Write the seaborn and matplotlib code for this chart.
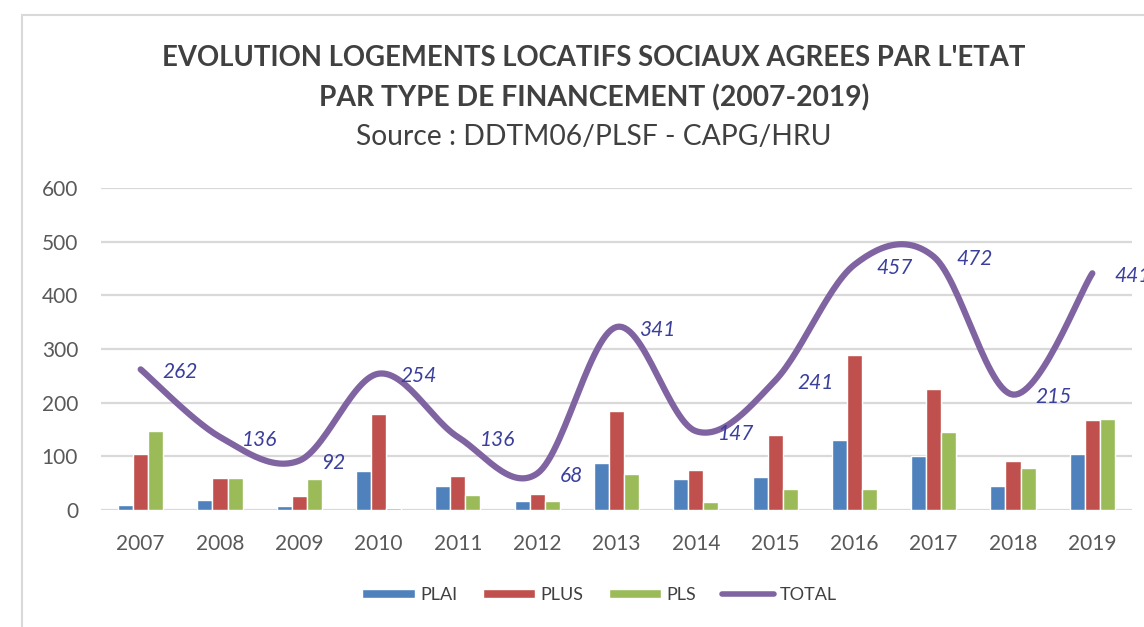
import numpy as np
import pandas as pd
import matplotlib
matplotlib.use("Agg")
import matplotlib.pyplot as plt
import seaborn as sns
from matplotlib.patches import Patch
from matplotlib.lines import Line2D

years = ["2007", "2008", "2009", "2010", "2011", "2012", "2013",
         "2014", "2015", "2016", "2017", "2018", "2019"]
plai = [10, 18, 8, 72, 45, 17, 88, 57, 62, 130, 100, 44, 105]
plus = [105, 59, 26, 178, 63, 30, 185, 75, 140, 288, 226, 92, 167]
pls = [147, 59, 58, 4, 28, 17, 68, 15, 39, 39, 146, 79, 169]
total = [262, 136, 92, 254, 136, 68, 341, 147, 241, 457, 472, 215, 441]

colors = {"PLAI": "#4F81BD", "PLUS": "#C0504D", "PLS": "#9BBB59"}
line_color = "#8064A2"
label_color = "#3B3F9C"
text_color = "#404040"


def smooth(xs, ys, n=30):
    # Catmull-Rom style smoothing, like Excel "smoothed line"
    pts = np.column_stack([xs, ys]).astype(float)
    ext = np.vstack([pts[0], pts, pts[-1]])
    out = []
    for i in range(len(pts) - 1):
        p0, p1, p2, p3 = ext[i], ext[i + 1], ext[i + 2], ext[i + 3]
        m1 = (p2 - p0) / 2
        m2 = (p3 - p1) / 2
        t = np.linspace(0, 1, n)[:, None]
        h00 = 2 * t**3 - 3 * t**2 + 1
        h10 = t**3 - 2 * t**2 + t
        h01 = -2 * t**3 + 3 * t**2
        h11 = t**3 - t**2
        out.append(h00 * p1 + h10 * m1 + h01 * p2 + h11 * m2)
    return np.vstack(out)


df = pd.DataFrame({"year": years, "PLAI": plai, "PLUS": plus, "PLS": pls})
long_df = df.melt(id_vars="year", var_name="type", value_name="value")

sns.set_style("white")
plt.rcParams["font.family"] = ["Lato", "DejaVu Sans"]

fig = plt.figure(figsize=(11.44, 6.27), dpi=100)
ax = fig.add_axes([0.0883, 0.1866, 0.9012, 0.5136])

sns.barplot(data=long_df, x="year", y="value", hue="type", order=years,
            hue_order=["PLAI", "PLUS", "PLS"], palette=colors, width=0.57,
            saturation=1, legend=False, ax=ax, zorder=2)

curve = smooth(np.arange(len(years)), total)
ax.plot(curve[:, 0], curve[:, 1], color=line_color, lw=4.5,
        solid_capstyle="round", zorder=3, clip_on=False)

# the last label runs off the right edge, as in the original screenshot
for i, v in enumerate(total):
    ax.annotate(str(v), (i, v), xytext=(16, -2), textcoords="offset points",
                ha="left", va="center", fontsize=15, style="italic",
                color=label_color, annotation_clip=False, zorder=4)

ax.set_xlim(-0.5, len(years) - 0.5)
ax.set_ylim(0, 600)
ax.set_yticks(range(0, 601, 100))
ax.yaxis.grid(True, color="#D9D9D9", lw=1.6)
ax.set_axisbelow(True)
for s in ax.spines.values():
    s.set_visible(False)
ax.tick_params(axis="both", length=0, labelsize=15, labelcolor="#595959")
ax.tick_params(axis="y", pad=16.5)
ax.tick_params(axis="x", pad=17)
ax.set_xlabel("")
ax.set_ylabel("")

fig.text(0.519, 0.908, "EVOLUTION LOGEMENTS LOCATIFS SOCIAUX AGREES PAR L'ETAT",
         ha="center", va="center", fontsize=19.8, fontweight="bold", color=text_color)
fig.text(0.519, 0.844, "PAR TYPE DE FINANCEMENT (2007-2019)",
         ha="center", va="center", fontsize=20.3, fontweight="bold", color=text_color)
fig.text(0.519, 0.7815, "Source : DDTM06/PLSF - CAPG/HRU",
         ha="center", va="center", fontsize=20.3, color=text_color)

# chart frame (top and left edges visible in the screenshot)
fig.add_artist(Line2D([22 / 1144, 1], [1 - 15 / 627, 1 - 15 / 627],
                      transform=fig.transFigure, color="#D9D9D9", lw=1.5))
fig.add_artist(Line2D([22 / 1144, 22 / 1144], [0, 1 - 15 / 627],
                      transform=fig.transFigure, color="#D9D9D9", lw=1.5))

handles = [Patch(facecolor=colors["PLAI"], label="PLAI"),
           Patch(facecolor=colors["PLUS"], label="PLUS"),
           Patch(facecolor=colors["PLS"], label="PLS"),
           Line2D([], [], color=line_color, lw=4, solid_capstyle="round", label="TOTAL")]
leg = fig.legend(handles=handles, loc="center", bbox_to_anchor=(0.524, 0.051),
                 ncol=4, frameon=False, fontsize=13, handlelength=2.9,
                 handleheight=0.45, handletextpad=0.3, columnspacing=1.4)
for t in leg.get_texts():
    t.set_color("#404040")

fig.savefig("out.png", dpi=100)
